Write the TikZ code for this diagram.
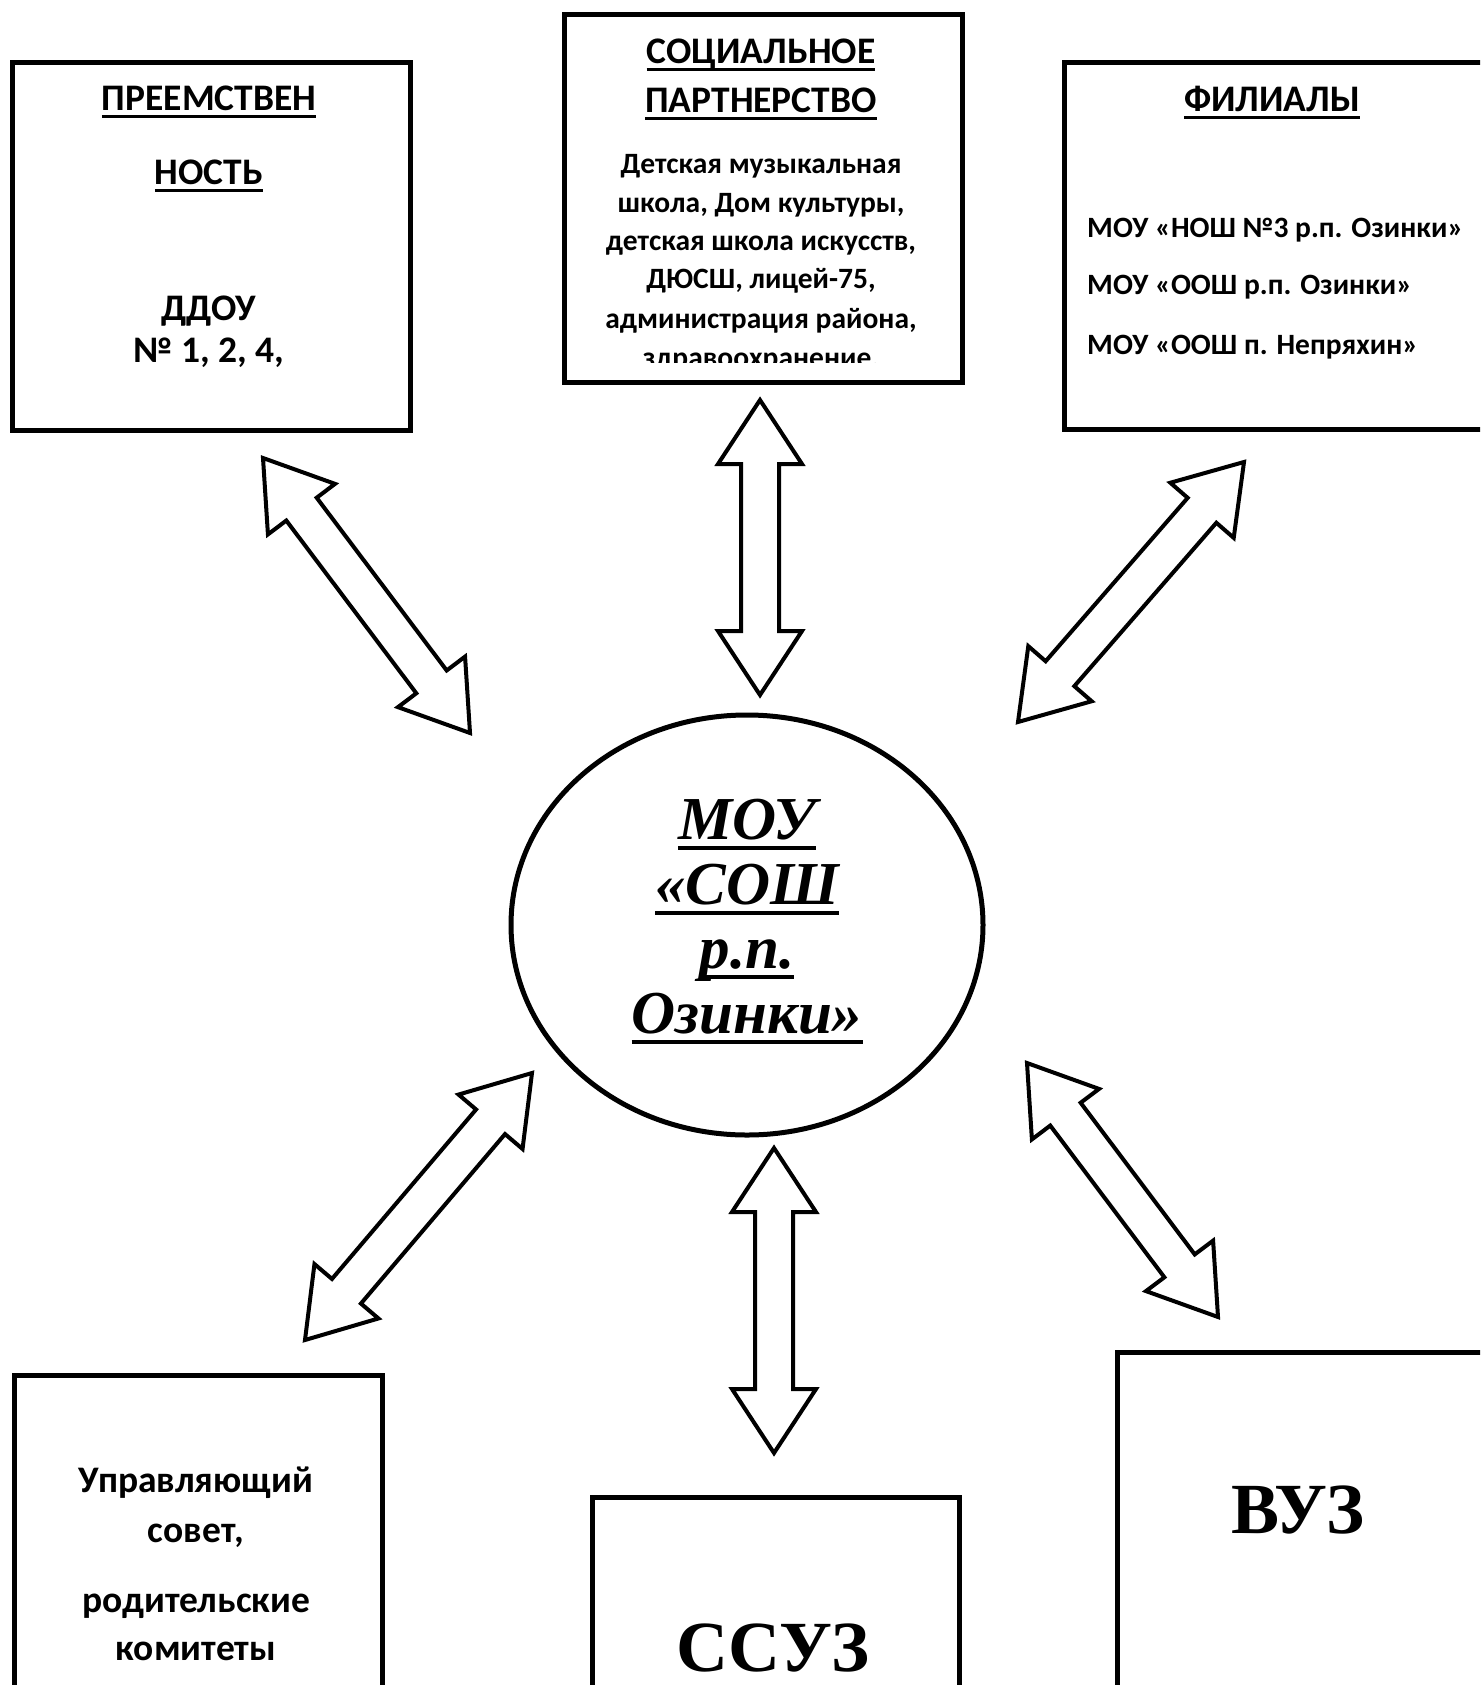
\documentclass[tikz,border=0pt]{standalone}
\usepackage{fontspec}
\setmainfont{Carlito}
\newfontfamily\serifbf{Liberation Serif}
\usetikzlibrary{calc, shapes.geometric, positioning}

% underline with a rule of given thickness
\newcommand{\ulbar}[2][3pt]{{\setbox0\hbox{#2}\leavevmode\rlap{\vrule width\wd0 height\dimexpr-0.11em\relax depth\dimexpr0.11em+#1\relax}\box0}}

\tikzset{
  boxframe/.style={draw, line width=5pt, rectangle, anchor=north west, inner sep=0pt},
  headtext/.style={font=\bfseries\fontsize{37.5}{40}\selectfont, anchor=base, inner sep=0pt},
  bodytext/.style={font=\bfseries\fontsize{29.5}{34}\selectfont, anchor=base, inner sep=0pt},
  bigtext/.style={font=\serifbf\bfseries\fontsize{72}{80}\selectfont, anchor=base, inner sep=0pt},
  hubtext/.style={font=\serifbf\bfseries\itshape\fontsize{61}{66}\selectfont, anchor=base, inner sep=0pt},
  twoway/.style={draw, line width=4pt, fill=white, line join=miter},
}

% double block arrow between two named points
\newcommand{\twoarrow}[2]{%
  \draw[twoway] (#1)
    -- ($(#1)!64pt!(#2)!42pt!90:(#2)$) -- ($(#1)!64pt!(#2)!19pt!90:(#2)$)
    -- ($(#2)!64pt!(#1)!19pt!-90:(#1)$) -- ($(#2)!64pt!(#1)!42pt!-90:(#1)$)
    -- (#2)
    -- ($(#2)!64pt!(#1)!42pt!90:(#1)$) -- ($(#2)!64pt!(#1)!19pt!90:(#1)$)
    -- ($(#1)!64pt!(#2)!19pt!-90:(#2)$) -- ($(#1)!64pt!(#2)!42pt!-90:(#2)$)
    -- cycle;}

\begin{document}
\begin{tikzpicture}[x=1pt, y=-1pt]
    \useasboundingbox (0,0) rectangle (1480,1685);
    \clip (0,0) rectangle (1480,1685);

    % Cadres
    \node[boxframe, minimum width=398pt, minimum height=368pt] (prem) at (10,60) {};
    \node[boxframe, minimum width=398pt, minimum height=368pt] (partner) at (562,12) {};
    \node[boxframe, minimum width=420pt, minimum height=367pt] (filial) at (1062,60) {};
    \node[boxframe, minimum width=368pt, minimum height=400pt] (council) at (12,1373) {};
    \node[boxframe, minimum width=367pt, minimum height=300pt] (ssuz) at (590,1495) {};
    \node[boxframe, minimum width=367pt, minimum height=400pt] (vuz) at (1115,1350) {};

    % Ecole
    \node[draw, ellipse, line width=5pt, minimum width=472pt, minimum height=420pt] (school) at (747,925) {};

    % Textes
    \node[headtext] (prem1) at (209,111) {\ulbar{ПРЕЕМСТВЕН}};
    \node[headtext] (prem2) at (209,185) {\ulbar{НОСТЬ}};
    \node[headtext] (ddou) at (209,320) {ДДОУ};
    \node[headtext] (ddounum) at (209,362) {№ 1, 2, 4,};

    \node[headtext] (soc1) at (761,64) {\ulbar{СОЦИАЛЬНОЕ}};
    \node[headtext] (soc2) at (761,113) {\ulbar{ПАРТНЕРСТВО}};
    \begin{scope}
      \clip (562,12) rectangle (960,362);
      \node[bodytext] (socA) at (761,174) {Детская музыкальная};
      \node[bodytext] (socB) at (761,213) {школа, Дом культуры,};
      \node[bodytext] (socC) at (761,251) {детская школа искусств,};
      \node[bodytext] (socD) at (761,289) {ДЮСШ, лицей-75,};
      \node[bodytext] (socE) at (761,328) {администрация района,};
      \node[bodytext] (socF) at (761,367) {здравоохранение.};
    \end{scope}

    \node[headtext] (fil0) at (1272,112) {\ulbar{ФИЛИАЛЫ}};
    \node[bodytext, anchor=base west] (fil1) at (1087,238) {МОУ «НОШ №3 р.п. Озинки»};
    \node[bodytext, anchor=base west] (fil2) at (1087,295) {МОУ «ООШ р.п. Озинки»};
    \node[bodytext, anchor=base west] (fil3) at (1087,354) {МОУ «ООШ п. Непряхин»};

    \node[headtext] (cou1) at (196,1492) {Управляющий};
    \node[headtext] (cou2) at (196,1542) {совет,};
    \node[headtext] (cou3) at (196,1612) {родительские};
    \node[headtext] (cou4) at (196,1660) {комитеты};

    \node[bigtext] (ssuztext) at (773,1671) {ССУЗ};
    \node[bigtext] (vuztext) at (1298,1533) {ВУЗ};

    \node[hubtext] (hub1) at (747,839) {\ulbar[4pt]{МОУ}};
    \node[hubtext] (hub2) at (747,904) {\ulbar[4pt]{«СОШ}};
    \node[hubtext] (hub3) at (747,968) {\ulbar[4pt]{р.п.}};
    \node[hubtext] (hub4) at (747,1033) {\ulbar[4pt]{Озинки»}};

    % Fleches
    \coordinate (premend) at (263,458);   \coordinate (premhub) at (470,733);
    \coordinate (socend) at (760,400);    \coordinate (sochub) at (760,695);
    \coordinate (filend) at (1244,462);   \coordinate (filhub) at (1018,722);
    \coordinate (couend) at (305,1340);   \coordinate (couhub) at (532,1073);
    \coordinate (ssuzend) at (774,1453);  \coordinate (ssuzhub) at (774,1148);
    \coordinate (vuzend) at (1218,1317);  \coordinate (vuzhub) at (1027,1063);

    \twoarrow{premend}{premhub}
    \twoarrow{socend}{sochub}
    \twoarrow{filend}{filhub}
    \twoarrow{couend}{couhub}
    \twoarrow{ssuzend}{ssuzhub}
    \twoarrow{vuzend}{vuzhub}
\end{tikzpicture}
\end{document}
